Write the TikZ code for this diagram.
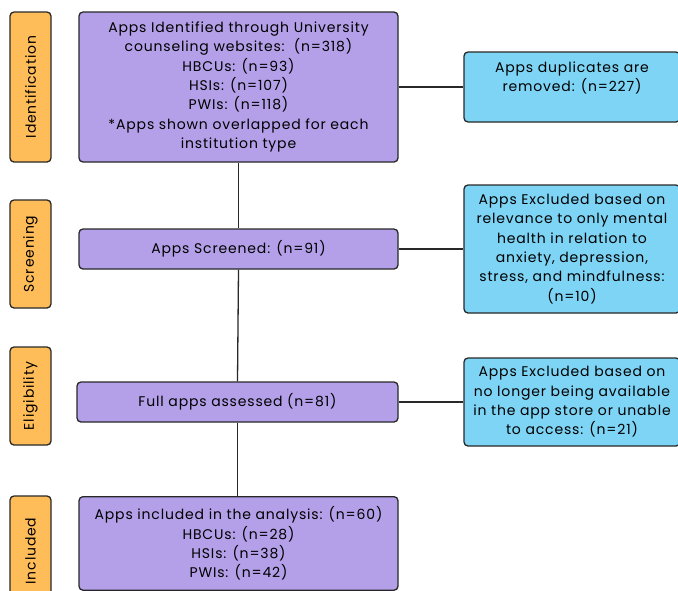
\documentclass[tikz,border=0pt]{standalone}
\usepackage{fontspec}
\setmainfont[LetterSpace=6]{Poppins}
\usetikzlibrary{positioning}
\definecolor{stagefill}{RGB}{255,189,89}
\definecolor{mainfill}{RGB}{180,160,232}
\definecolor{exclfill}{RGB}{125,212,245}
\definecolor{edge}{RGB}{40,40,40}

\begin{document}
\begin{tikzpicture}[x=1pt, y=-1pt,
    box/.style={draw=edge, line width=1.3pt, rounded corners=4pt, align=center, inner sep=0pt,
        font=\fontsize{14}{19.3}\selectfont},
    stage/.style={box, fill=stagefill, rotate=90, minimum height=41pt},
    mainbox/.style={box, fill=mainfill, minimum width=319pt},
    exclbox/.style={box, fill=exclfill, minimum width=216pt},
    link/.style={draw=edge, line width=1.3pt}]
    \useasboundingbox (0,0) rectangle (678,590);
    \clip (0,0) rectangle (678,590);

    % stages
    \node[stage, minimum width=150pt] (sid) at (30.5,87) {Identification};
    \node[stage, minimum width=108pt] (sscr) at (30.5,254) {Screening};
    \node[stage, minimum width=98pt] (selig) at (30.5,396) {Eligibility};
    \node[stage, minimum width=110pt] (sinc) at (30.5,551) {Included};

    % main column
    \node[mainbox, minimum height=150pt] (ident) at (238.5,87) {Apps Identified through University\\counseling websites:~~(n=318)\\HBCUs: (n=93)\\HSIs: (n=107)\\PWIs: (n=118)\\{*}Apps shown overlapped for each\\institution type};
    \node[mainbox, minimum height=40pt] (screen) at (238.5,249) {Apps Screened: (n=91)};
    \node[mainbox, minimum width=321pt, minimum height=40pt] (full) at (237.5,402) {Full apps assessed (n=81)};
    \node[mainbox, anchor=north, inner ysep=10pt] (incl) at (238.5,496) {Apps included in the analysis: (n=60)\\HBCUs: (n=28)\\HSIs: (n=38)\\PWIs: (n=42)};

    % exclusions
    \node[exclbox, inner ysep=6pt] (dup) at (572,87) {\parbox[c][58pt][t]{212pt}{\vspace*{4pt}\centering Apps duplicates are\\removed: (n=227)}};
    \node[exclbox, minimum height=128pt] (rel) at (572,249) {Apps Excluded based on\\relevance to only mental\\health in relation to\\anxiety, depression,\\stress, and mindfulness:\\(n=10)};
    \node[exclbox, minimum height=88pt] (avail) at (572,402) {Apps Excluded based on\\no longer being available\\in the app store or unable\\to access: (n=21)};

    \draw[link] (ident.south) -- (screen.north);
    \draw[link] (screen.south) -- (full.north);
    \draw[link] (full.south) -- (full.south |- incl.north);
    \draw[link] (ident.east) -- (dup.west);
    \draw[link] (screen.east) -- (rel.west);
    \draw[link] (full.east) -- (avail.west);
\end{tikzpicture}
\end{document}
